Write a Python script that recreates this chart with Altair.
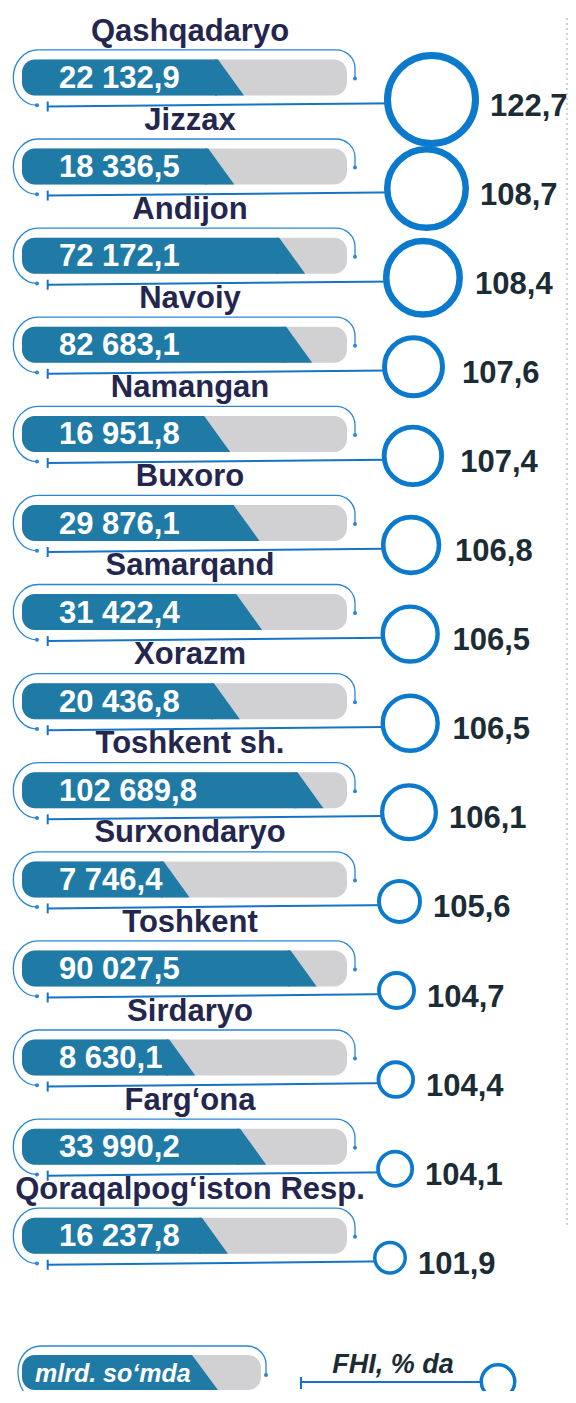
import altair as alt
import pandas as pd

# ---- data ----
regions = ["Qashqadaryo", "Jizzax", "Andijon", "Navoiy", "Namangan", "Buxoro",
           "Samarqand", "Xorazm", "Toshkent sh.", "Surxondaryo", "Toshkent",
           "Sirdaryo", "Farg‘ona", "Qoraqalpog‘iston Resp."]
mlrd = [22132.9, 18336.5, 72172.1, 82683.1, 16951.8, 29876.1, 31422.4,
        20436.8, 102689.8, 7746.4, 90027.5, 8630.1, 33990.2, 16237.8]
fhi = [122.7, 108.7, 108.4, 107.6, 107.4, 106.8, 106.5, 106.5, 106.1,
       105.6, 104.7, 104.4, 104.1, 101.9]
legend_texts = ["mlrd. so‘mda", "FHI, % da"]


def fmt_mlrd(v):
    return f"{v:,.1f}".replace(",", " ").replace(".", ",")


def fmt_fhi(v):
    return f"{v:.1f}".replace(".", ",")


df = pd.DataFrame({
    "region": regions,
    "row": list(range(len(regions))),
    "mlrd": mlrd,
    "fhi": fhi,
    "mlrd_label": [fmt_mlrd(v) for v in mlrd],
    "fhi_label": [fmt_fhi(v) for v in fhi],
})
df_one = pd.DataFrame({"k": [0]})

# ---- styles ----
FONT = "Liberation Sans"
BAR_BLUE = "#1f7ba6"
TRACK = "#d1d1d3"
RING = "#0b79cc"
OUTLINE = "#2a86d4"
LINE = "#1674c4"
TITLE = "#25264e"
NUM = "#1c2c34"

ROW_BRACKET = ("M347,1L347,-9C347,-19.5 338.5,-27.6 328,-27.6L30,-27.6"
               "C16.4,-27.6 5.3,-15.2 5.3,0C5.3,15.3 15.4,27.7 29,27.7")
LEG_BRACKET = ("M258,2.5L258,-8C258,-18 249.5,-26.5 239,-26.5L33,-26.5"
               "C19.5,-26.5 10,-15 10,-1C10,12 16,24 25,25.5")
TRI = "M-16,-18L-13,-18L13,18L-16,18Z"
TRI_LEG = "M-16,-17.5L-13,-17.5L13,17.5L-16,17.5Z"

# ---- scales ----
y_scale = alt.Scale(domain=[0, 13], range=[69.5, 1227.8], zero=False, nice=False)
Y = alt.Y("row:Q", scale=y_scale, axis=None)
Y2 = alt.Y2("row:Q")

bar_scale = alt.Scale(type="log", domain=[390, 110000], range=[14, 306], nice=False)
fhi_stops = [101.9, 104.7, 105.6, 106.1, 107.6, 108.7, 122.7]
circle_x_scale = alt.Scale(domain=fhi_stops, range=[382, 388.5, 391.5, 401, 405.5, 418.5, 423.5],
                           zero=False, nice=False)
label_x_scale = alt.Scale(domain=fhi_stops, range=[410, 419, 425, 441, 454, 472, 482],
                          zero=False, nice=False)
size_scale = alt.Scale(domain=fhi_stops, range=[930, 1232, 1681, 2889, 3364, 6162, 7744],
                       zero=False, nice=False)
sw_scale = alt.Scale(domain=[101.9, 105.6, 107.6, 108.4, 122.7], range=[3.5, 4, 5, 6.5, 7],
                     zero=False, nice=False)

base = alt.Chart(df)

dotted = alt.Chart(df_one).mark_rule(color="#c4c4c4", strokeWidth=1.5, strokeDash=[2, 3]).encode(
    x=alt.value(559), y=alt.value(10), y2=alt.value(1217))

track = base.mark_bar(color=TRACK, cornerRadius=13, yOffset=-18, y2Offset=18).encode(
    x=alt.value(14), x2=alt.value(339), y=Y, y2=Y2)

blue = base.mark_bar(color=BAR_BLUE, cornerRadiusTopLeft=13, cornerRadiusBottomLeft=13,
                     yOffset=-18, y2Offset=18, xOffset=-14).encode(
    x=alt.X("mlrd:Q", scale=bar_scale, axis=None), x2=alt.value(14), y=Y, y2=Y2)

tri = base.mark_point(shape=TRI, size=4, filled=True, color=BAR_BLUE, opacity=1, strokeWidth=0).encode(
    x=alt.X("mlrd:Q", scale=bar_scale, axis=None), y=Y)

outline = base.mark_point(shape=ROW_BRACKET, size=4, filled=False, stroke=OUTLINE,
                          strokeWidth=1.3, opacity=1).encode(x=alt.value(0), y=Y)

dot_r = base.mark_point(shape="circle", size=16, filled=True, color=OUTLINE, opacity=1,
                        yOffset=1).encode(x=alt.value(347), y=Y)
dot_l = base.mark_point(shape="circle", size=16, filled=True, color=OUTLINE, opacity=1,
                        yOffset=27.7).encode(x=alt.value(29), y=Y)

value_text = base.mark_text(align="left", baseline="middle", font=FONT, fontWeight="bold",
                            fontSize=31, color="white", yOffset=1.5).encode(
    x=alt.value(51), y=Y, text="mlrd_label:N")

title_text = base.mark_text(align="center", baseline="middle", font=FONT, fontWeight="bold",
                            fontSize=31, color=TITLE, yOffset=-46).encode(
    x=alt.value(182), y=Y, text="region:N")

line = base.mark_rule(color=LINE, strokeWidth=2, yOffset=25.5, y2Offset=29).encode(
    x=alt.X("fhi:Q", scale=circle_x_scale, axis=None), x2=alt.value(39.7), y=Y, y2=Y2)

tick = base.mark_point(shape="M0,-5L0,5", size=4, filled=False, stroke=LINE, strokeWidth=2,
                       opacity=1, yOffset=29).encode(x=alt.value(39.7), y=Y)

circles = base.mark_point(shape="circle", filled=True, fill="white", stroke=RING, opacity=1,
                          yOffset=22).encode(
    x=alt.X("fhi:Q", scale=circle_x_scale, axis=None), y=Y,
    size=alt.Size("fhi:Q", scale=size_scale, legend=None),
    strokeWidth=alt.StrokeWidth("fhi:Q", scale=sw_scale, legend=None))

fhi_text = base.mark_text(align="left", baseline="middle", font=FONT, fontWeight="bold",
                          fontSize=31, color=NUM, yOffset=29).encode(
    x=alt.X("fhi:Q", scale=label_x_scale, axis=None), y=Y, text="fhi_label:N")

# ---- legend ----
LY = 1364.5
leg = alt.Chart(df_one)
leg_track = leg.mark_bar(color=TRACK, cornerRadius=13).encode(
    x=alt.value(14), x2=alt.value(253), y=alt.value(LY - 17.5), y2=alt.value(LY + 17.5))
leg_blue = leg.mark_bar(color=BAR_BLUE, cornerRadiusTopLeft=13, cornerRadiusBottomLeft=13).encode(
    x=alt.value(14), x2=alt.value(183), y=alt.value(LY - 17.5), y2=alt.value(LY + 17.5))
leg_tri = leg.mark_point(shape=TRI_LEG, size=4, filled=True, color=BAR_BLUE, opacity=1,
                         strokeWidth=0).encode(x=alt.value(197), y=alt.value(LY))
leg_outline = leg.mark_point(shape=LEG_BRACKET, size=4, filled=False, stroke=OUTLINE,
                             strokeWidth=1.3, opacity=1).encode(x=alt.value(0), y=alt.value(LY))
leg_dot_r = leg.mark_point(shape="circle", size=16, filled=True, color=OUTLINE, opacity=1).encode(
    x=alt.value(258), y=alt.value(LY + 2.5))
leg_dot_l = leg.mark_point(shape="circle", size=16, filled=True, color=OUTLINE, opacity=1).encode(
    x=alt.value(25), y=alt.value(LY + 25.5))
leg_text1 = leg.mark_text(align="left", baseline="middle", font=FONT, fontWeight="bold",
                          fontStyle="italic", fontSize=25, color="white").encode(
    x=alt.value(27), y=alt.value(LY + 1.5), text=alt.value(legend_texts[0]))
leg_text2 = leg.mark_text(align="center", baseline="middle", font=FONT, fontWeight="bold",
                          fontStyle="italic", fontSize=27, color=NUM).encode(
    x=alt.value(385), y=alt.value(LY - 8), text=alt.value(legend_texts[1]))
leg_line = leg.mark_rule(color=LINE, strokeWidth=2).encode(
    x=alt.value(293), x2=alt.value(490), y=alt.value(LY + 9.5))
leg_tick = leg.mark_point(shape="M0,-6L0,6", size=4, filled=False, stroke=LINE, strokeWidth=2,
                          opacity=1).encode(x=alt.value(293), y=alt.value(LY + 10.5))
leg_circle = leg.mark_point(shape="circle", size=1122, filled=True, fill="white", stroke=RING,
                            strokeWidth=3.5, opacity=1).encode(x=alt.value(490), y=alt.value(LY + 9))

chart = alt.layer(
    dotted, track, blue, tri, outline, dot_r, dot_l, value_text, title_text,
    line, tick, circles, fhi_text,
    leg_track, leg_blue, leg_tri, leg_outline, leg_dot_r, leg_dot_l, leg_text1,
    leg_line, leg_tick, leg_circle, leg_text2,
).resolve_scale(x="independent").properties(
    width=560, height=1383, padding=0, background="white",
    autosize=alt.AutoSizeParams(type="none"),
).configure_view(strokeWidth=0)

chart.save("out.html", embed_options={"renderer": "svg", "actions": False})
